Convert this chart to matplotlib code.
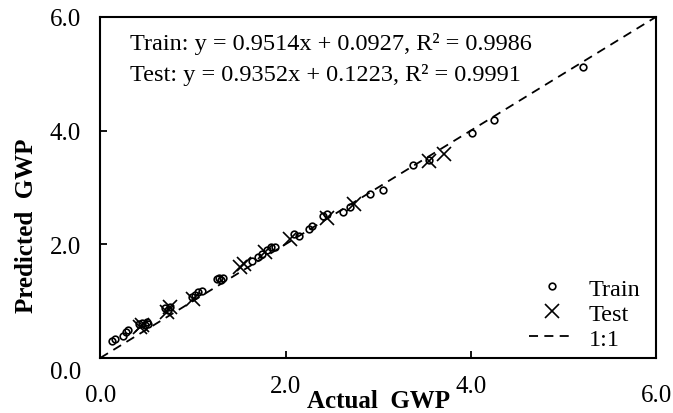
import numpy as np
import matplotlib
matplotlib.use("Agg")
import matplotlib.pyplot as plt
from matplotlib.transforms import ScaledTranslation

plt.rcParams['font.family'] = ['Liberation Serif', 'DejaVu Serif']

# train points (actual, predicted)
train_x = [0.13, 0.16, 0.24, 0.28, 0.30, 0.42, 0.45, 0.48, 0.50, 0.52,
           0.70, 0.73, 0.75, 0.99, 1.02, 1.06, 1.10, 1.26, 1.28, 1.30, 1.32,
           1.64, 1.70, 1.75, 1.80, 1.84, 1.89, 2.09, 2.14, 2.25, 2.29,
           2.40, 2.45, 2.62, 2.70, 2.91, 3.05, 3.37, 3.55, 4.01, 4.25, 5.21]
train_y = [0.30, 0.33, 0.39, 0.46, 0.49, 0.60, 0.62, 0.58, 0.63, 0.60,
           0.87, 0.85, 0.89, 1.07, 1.10, 1.16, 1.17, 1.38, 1.40, 1.37, 1.41,
           1.70, 1.77, 1.82, 1.90, 1.95, 1.96, 2.18, 2.14, 2.26, 2.32,
           2.49, 2.53, 2.56, 2.65, 2.89, 2.96, 3.40, 3.48, 3.95, 4.19, 5.12]

# test points
test_x = [0.43, 0.45, 0.72, 0.75, 1.00, 1.51, 1.55, 1.78, 2.05, 2.45, 2.74, 3.55, 3.71]
test_y = [0.54, 0.58, 0.81, 0.90, 1.04, 1.60, 1.65, 1.86, 2.09, 2.47, 2.70, 3.46, 3.58]

ticks = [0.0, 2.0, 4.0, 6.0]
tick_labels = ["0.0", "2.0", "4.0", "6.0"]

fig = plt.figure(figsize=(6.73, 4.14), dpi=100)
ax = fig.add_axes([0.149, 0.133, 0.826, 0.824])

ax.plot(train_x, train_y, 'o', mfc='none', mec='black', ms=4.8, mew=1.2, label='Train', zorder=3)
ax.plot(test_x, test_y, 'x', color='black', ms=10.5, mew=1.2, label='Test', zorder=3)
ax.plot([0, 6], [0, 6], '--', color='black', lw=1.3, dashes=(5, 3.5), label='1:1', zorder=2)

ax.set_xlim(0, 6)
ax.set_ylim(0, 6)
ax.set_xticks(ticks)
ax.set_xticklabels(tick_labels)
ax.set_yticks(ticks)
ax.set_yticklabels(tick_labels)
ax.tick_params(direction='in', length=5, width=1.3, labelsize=18)
ax.tick_params(axis='x', pad=19)
ax.tick_params(axis='y', pad=14)
for s in ax.spines.values():
    s.set_linewidth(1.5)

# Excel-style label offsets
xl = ax.get_xticklabels()
for i in (1, 2):
    xl[i].set_transform(xl[i].get_transform() + ScaledTranslation(0, 7/72, fig.dpi_scale_trans))
yl = ax.get_yticklabels()
yl[0].set_transform(yl[0].get_transform() + ScaledTranslation(0, -8/72, fig.dpi_scale_trans))

ax.text(0.054, 0.955, "Train: y = 0.9514x + 0.0927, R² = 0.9986", transform=ax.transAxes,
        fontsize=17.5, va='top', ha='left')
ax.text(0.054, 0.865, "Test: y = 0.9352x + 0.1223, R² = 0.9991", transform=ax.transAxes,
        fontsize=17.5, va='top', ha='left')

fig.text(0.562, 0.03, "Actual  GWP", fontsize=18, fontweight='bold', ha='center', va='center')
fig.text(0.04, 0.455, "Predicted  GWP", fontsize=18, fontweight='bold', ha='center', va='center',
         rotation=90)

ax.legend(loc='lower right', bbox_to_anchor=(1.0, -0.022), frameon=False, fontsize=17.5,
          handlelength=1.9, handletextpad=0.55, labelspacing=0.12, borderaxespad=0.25)

fig.savefig("out.png", dpi=100)
